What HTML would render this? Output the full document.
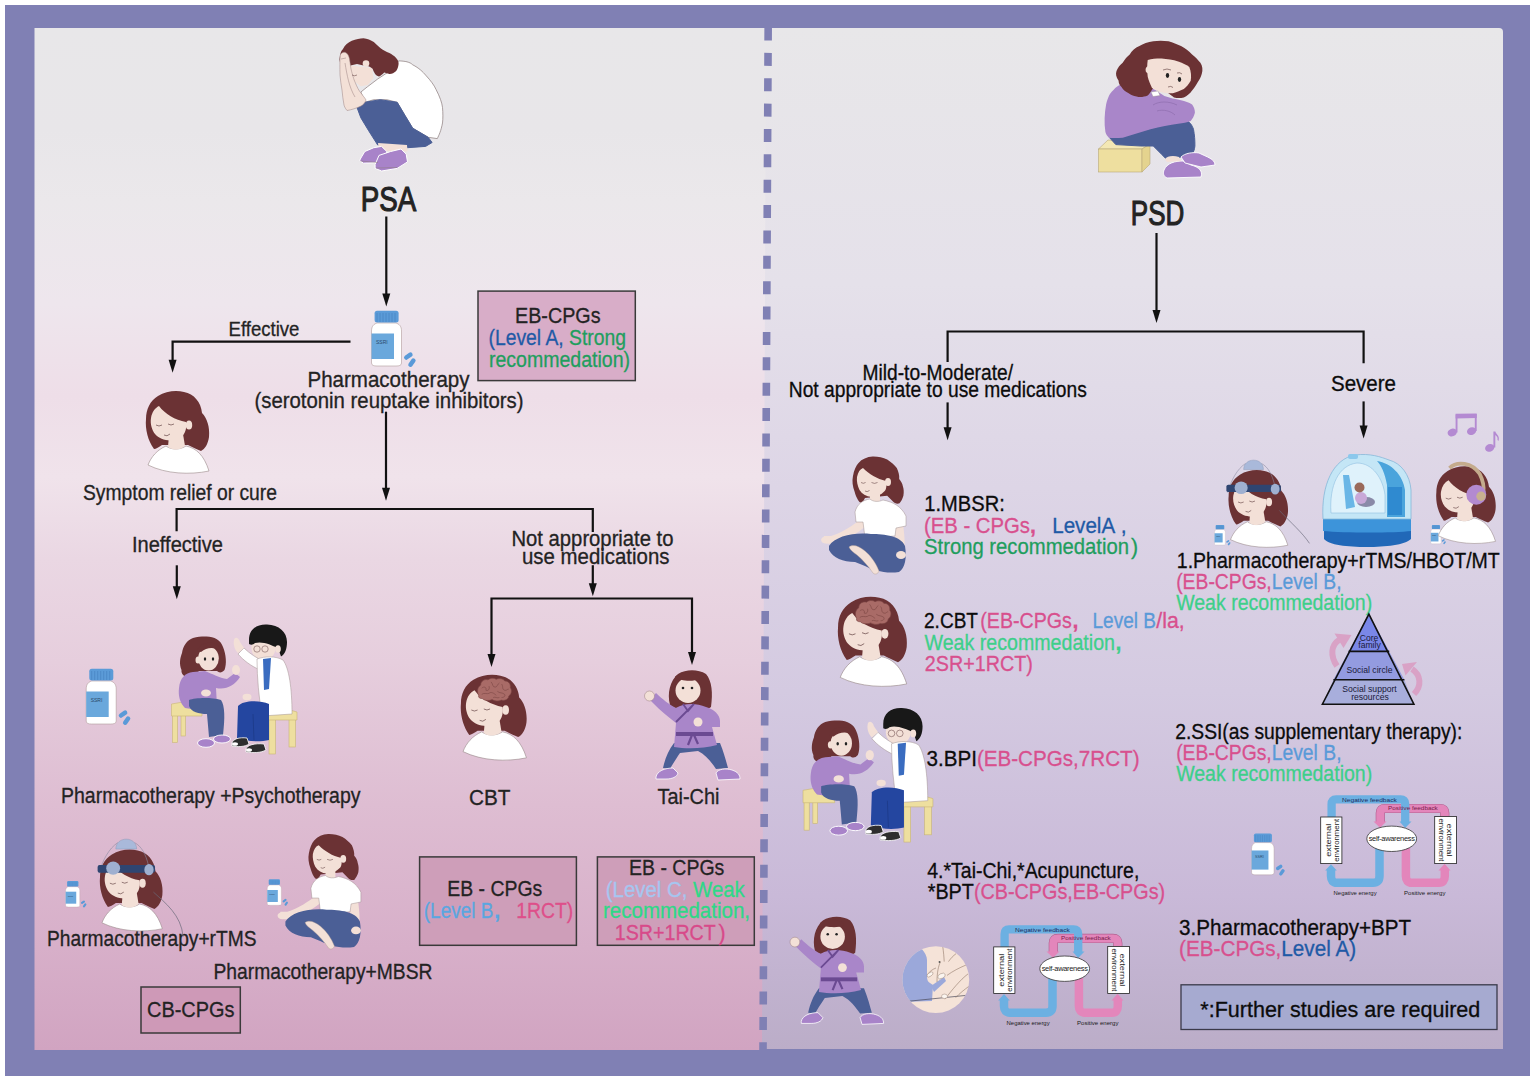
<!DOCTYPE html>
<html><head><meta charset="utf-8"><style>
html,body{margin:0;padding:0;background:#fff;}
svg{display:block;}
</style></head><body>
<svg width="1535" height="1081" viewBox="0 0 1535 1081">
<defs>
<linearGradient id="gl" x1="0" y1="0" x2="0" y2="1">
<stop offset="0" stop-color="#e8e7e9"/>
<stop offset="0.1" stop-color="#e8e6e9"/>
<stop offset="0.17" stop-color="#ebe8eb"/>
<stop offset="0.27" stop-color="#eee6ed"/>
<stop offset="0.36" stop-color="#eedee8"/>
<stop offset="0.44" stop-color="#f0e3eb"/>
<stop offset="0.52" stop-color="#ead7e3"/>
<stop offset="0.62" stop-color="#e6cedd"/>
<stop offset="0.76" stop-color="#debdd2"/>
<stop offset="0.9" stop-color="#d7afc9"/>
<stop offset="1" stop-color="#d1a4c1"/>
</linearGradient>
<linearGradient id="gr" x1="0" y1="0" x2="0" y2="1">
<stop offset="0" stop-color="#e8e7e9"/>
<stop offset="0.25" stop-color="#e5e1ea"/>
<stop offset="0.45" stop-color="#ddd5e6"/>
<stop offset="0.65" stop-color="#d4cae1"/>
<stop offset="0.85" stop-color="#c9b9d8"/>
<stop offset="1" stop-color="#bbadc8"/>
</linearGradient>
</defs>
<rect x="0" y="0" width="1535" height="1081" fill="#ffffff"/>
<rect x="5" y="5" width="1525" height="1071" fill="#8080b4"/>
<path d="M34.5,28 H768 L764,1050 H34.5 Z" fill="url(#gl)"/>
<path d="M766,28 H1499 a4,4 0 0 1 4,4 V1049 H762 Z" fill="url(#gr)"/>
<line x1="768.2" y1="22" x2="763" y2="1052" stroke="#8080b4" stroke-width="7.6" stroke-dasharray="13 12.37" stroke-dashoffset="-5.5"/>
<g font-family='"Liberation Sans", sans-serif'>
<text x="360.8" y="210.5" font-size="34.6" fill="#232323" stroke="#232323" stroke-width="0.3" textLength="55.5" lengthAdjust="spacingAndGlyphs" style="stroke-width:1.1px">PSA</text>
<text x="228.6" y="335.8" font-size="20.5" fill="#232323" stroke="#232323" stroke-width="0.3" textLength="70.8" lengthAdjust="spacingAndGlyphs">Effective</text>
<text x="307.5" y="386.5" font-size="21.3" fill="#232323" stroke="#232323" stroke-width="0.3" textLength="162" lengthAdjust="spacingAndGlyphs">Pharmacotherapy</text>
<text x="254.5" y="407.8" font-size="21.3" fill="#232323" stroke="#232323" stroke-width="0.3" textLength="269" lengthAdjust="spacingAndGlyphs">(serotonin reuptake inhibitors)</text>
<rect x="478" y="291.1" width="157.29999999999995" height="89.5" fill="#d8adc8" stroke="#3a3a3a" stroke-width="1.5"/>
<text x="515" y="323.4" font-size="21.3" fill="#232323" stroke="#232323" stroke-width="0.3" textLength="85.5" lengthAdjust="spacingAndGlyphs">EB-CPGs</text>
<text x="488.5" y="344.5" font-size="21.3" textLength="137.5" lengthAdjust="spacingAndGlyphs"><tspan fill="#1f5aa6" stroke="#1f5aa6" stroke-width="0.3">(Level A, </tspan><tspan fill="#1f9e5e" stroke="#1f9e5e" stroke-width="0.3">Strong</tspan></text>
<text x="489" y="366.7" font-size="21.3" fill="#1f9e5e" stroke="#1f9e5e" stroke-width="0.3" textLength="141" lengthAdjust="spacingAndGlyphs">recommedation)</text>
<text x="83" y="500" font-size="21.3" fill="#232323" stroke="#232323" stroke-width="0.3" textLength="194" lengthAdjust="spacingAndGlyphs">Symptom relief or cure</text>
<text x="132" y="552" font-size="21.3" fill="#232323" stroke="#232323" stroke-width="0.3" textLength="91" lengthAdjust="spacingAndGlyphs">Ineffective</text>
<text x="511.5" y="545.8" font-size="21.3" fill="#232323" stroke="#232323" stroke-width="0.3" textLength="162" lengthAdjust="spacingAndGlyphs">Not appropriate to</text>
<text x="522" y="563.7" font-size="21.3" fill="#232323" stroke="#232323" stroke-width="0.3" textLength="147.5" lengthAdjust="spacingAndGlyphs">use medications</text>
<text x="469" y="805" font-size="21.3" fill="#232323" stroke="#232323" stroke-width="0.3" textLength="41.5" lengthAdjust="spacingAndGlyphs">CBT</text>
<text x="657.5" y="803.5" font-size="21.3" fill="#232323" stroke="#232323" stroke-width="0.3" textLength="62" lengthAdjust="spacingAndGlyphs">Tai-Chi</text>
<text x="61" y="802.5" font-size="21.3" fill="#232323" stroke="#232323" stroke-width="0.3" textLength="299.5" lengthAdjust="spacingAndGlyphs">Pharmacotherapy +Psychotherapy</text>
<text x="47" y="946" font-size="21.3" fill="#232323" stroke="#232323" stroke-width="0.3" textLength="209.5" lengthAdjust="spacingAndGlyphs">Pharmacotherapy+rTMS</text>
<text x="213.5" y="979" font-size="21.3" fill="#232323" stroke="#232323" stroke-width="0.3" textLength="219" lengthAdjust="spacingAndGlyphs">Pharmacotherapy+MBSR</text>
<rect x="141" y="987" width="99.30000000000001" height="46" fill="#ce99b7" stroke="#3a3a3a" stroke-width="1.5"/>
<text x="147" y="1016.8" font-size="21.3" fill="#232323" stroke="#232323" stroke-width="0.3" textLength="87.5" lengthAdjust="spacingAndGlyphs">CB-CPGs</text>
<rect x="419.6" y="856.9" width="156.79999999999995" height="88.39999999999998" fill="#ce9eb9" stroke="#3a3a3a" stroke-width="1.5"/>
<text x="447.3" y="896.3" font-size="21.3" fill="#232323" stroke="#232323" stroke-width="0.3" textLength="95" lengthAdjust="spacingAndGlyphs">EB - CPGs</text>
<text x="423.8" y="918" font-size="21.3" fill="#5aa6e0" stroke="#5aa6e0" stroke-width="0.3" textLength="69.5" lengthAdjust="spacingAndGlyphs">(Level B</text>
<text x="494.2" y="918" font-size="21.3" fill="#5aa6e0" stroke="#5aa6e0" stroke-width="0.3" font-weight="bold">,</text>
<text x="516.3" y="918" font-size="21.3" fill="#de4f8a" stroke="#de4f8a" stroke-width="0.3" textLength="57" lengthAdjust="spacingAndGlyphs">1RCT)</text>
<rect x="597.4" y="856.9" width="156.89999999999998" height="88.39999999999998" fill="#ce9eb9" stroke="#3a3a3a" stroke-width="1.5"/>
<text x="629" y="875" font-size="21.3" fill="#232323" stroke="#232323" stroke-width="0.3" textLength="95.3" lengthAdjust="spacingAndGlyphs">EB - CPGs</text>
<text x="605.8" y="897" font-size="21.3" textLength="139" lengthAdjust="spacingAndGlyphs"><tspan fill="#a6c6f0" stroke="#a6c6f0" stroke-width="0.3">(Level C, </tspan><tspan fill="#2fd887" stroke="#2fd887" stroke-width="0.3">Weak</tspan></text>
<text x="603" y="918.4" font-size="21.3" fill="#2fd887" stroke="#2fd887" stroke-width="0.3" textLength="147" lengthAdjust="spacingAndGlyphs">recommedation,</text>
<text x="614.8" y="939.6" font-size="21.3" fill="#d84a8a" stroke="#d84a8a" stroke-width="0.3" textLength="101" lengthAdjust="spacingAndGlyphs">1SR+1RCT</text>
<text x="718.5" y="939.6" font-size="21.3" fill="#d84a8a" stroke="#d84a8a" stroke-width="0.3">)</text>
<line x1="386.3" y1="216.5" x2="386.3" y2="298.4" stroke="#111" stroke-width="2.2"/>
<polygon points="382.3,293.4 390.3,293.4 386.3,306.4" fill="#111"/>
<polyline points="350.5,341.6 172.6,341.6 172.6,364" fill="none" stroke="#111" stroke-width="2.2" stroke-linejoin="miter"/>
<polygon points="168.6,359.8 176.6,359.8 172.6,372.8" fill="#111"/>
<line x1="386" y1="411.7" x2="386" y2="492.8" stroke="#111" stroke-width="2.2"/>
<polygon points="382.0,487.8 390.0,487.8 386,500.8" fill="#111"/>
<polyline points="592.8,531.9 592.8,509 176.6,509 176.6,531.3" fill="none" stroke="#111" stroke-width="2.2" stroke-linejoin="miter"/>
<line x1="592.8" y1="565.2" x2="592.8" y2="588.3" stroke="#111" stroke-width="2.2"/>
<polygon points="588.8,583.3 596.8,583.3 592.8,596.3" fill="#111"/>
<line x1="176.8" y1="565.3" x2="176.8" y2="591.3" stroke="#111" stroke-width="2.2"/>
<polygon points="172.8,586.3 180.8,586.3 176.8,599.3" fill="#111"/>
<polyline points="491.5,660 491.5,598.5 692,598.5 692,660" fill="none" stroke="#111" stroke-width="2.2" stroke-linejoin="miter"/>
<polygon points="487.5,654 495.5,654 491.5,667" fill="#111"/>
<polygon points="688.0,652 696.0,652 692,665" fill="#111"/>
<text x="1130.8" y="224.6" font-size="34.6" fill="#232323" stroke="#232323" stroke-width="0.3" textLength="53.5" lengthAdjust="spacingAndGlyphs" style="stroke-width:1.1px">PSD</text>
<text x="862.5" y="380.3" font-size="21.3" fill="#0c0c0c" stroke="#0c0c0c" stroke-width="0.3" textLength="150.5" lengthAdjust="spacingAndGlyphs">Mild-to-Moderate/</text>
<text x="788.8" y="397.2" font-size="21.3" fill="#0c0c0c" stroke="#0c0c0c" stroke-width="0.3" textLength="298" lengthAdjust="spacingAndGlyphs">Not appropriate to use medications</text>
<text x="1331" y="390.5" font-size="21.3" fill="#0c0c0c" stroke="#0c0c0c" stroke-width="0.3" textLength="65" lengthAdjust="spacingAndGlyphs">Severe</text>
<text x="924.3" y="510.9" font-size="21.3" fill="#0c0c0c" stroke="#0c0c0c" stroke-width="0.3" textLength="80.5" lengthAdjust="spacingAndGlyphs">1.MBSR:</text>
<text x="924" y="532.9" font-size="21.3" fill="#d8508e" stroke="#d8508e" stroke-width="0.3" textLength="106" lengthAdjust="spacingAndGlyphs">(EB - CPGs</text>
<text x="1030" y="532.9" font-size="21.3" fill="#d8508e" stroke="#d8508e" stroke-width="0.3" font-weight="bold">,</text>
<text x="1052.2" y="532.9" font-size="21.3" fill="#1f5aa6" stroke="#1f5aa6" stroke-width="0.3" textLength="63" lengthAdjust="spacingAndGlyphs">LevelA</text>
<text x="1120.8" y="532.9" font-size="21.3" fill="#1f5aa6" stroke="#1f5aa6" stroke-width="0.3">,</text>
<text x="924" y="553.7" font-size="21.3" fill="#1f9e5e" stroke="#1f9e5e" stroke-width="0.3" textLength="205" lengthAdjust="spacingAndGlyphs">Strong recommedation</text>
<text x="1131" y="553.7" font-size="21.3" fill="#1f9e5e" stroke="#1f9e5e" stroke-width="0.3">)</text>
<text x="1176.8" y="567.8" font-size="21.3" fill="#0c0c0c" stroke="#0c0c0c" stroke-width="0.3" textLength="323" lengthAdjust="spacingAndGlyphs">1.Pharmacotherapy+rTMS/HBOT/MT</text>
<text x="1176.2" y="589" font-size="21.3" textLength="165.3" lengthAdjust="spacingAndGlyphs"><tspan fill="#d8508e" stroke="#d8508e" stroke-width="0.3">(EB-CPGs,</tspan><tspan fill="#5a9ad8" stroke="#5a9ad8" stroke-width="0.3">Level B,</tspan></text>
<text x="1176.2" y="610.2" font-size="21.3" fill="#3ecf8a" stroke="#3ecf8a" stroke-width="0.3" textLength="196" lengthAdjust="spacingAndGlyphs">Weak recommedation)</text>
<text x="924" y="628.1" font-size="21.3" fill="#0c0c0c" stroke="#0c0c0c" stroke-width="0.3" textLength="54" lengthAdjust="spacingAndGlyphs">2.CBT</text>
<text x="980.3" y="628.1" font-size="21.3" fill="#d8508e" stroke="#d8508e" stroke-width="0.3" textLength="91.5" lengthAdjust="spacingAndGlyphs">(EB-CPGs</text>
<text x="1072.6" y="628.1" font-size="21.3" fill="#d8508e" stroke="#d8508e" stroke-width="0.3" font-weight="bold">,</text>
<text x="1092.5" y="628.1" font-size="21.3" fill="#5a9ad8" stroke="#5a9ad8" stroke-width="0.3" textLength="63.5" lengthAdjust="spacingAndGlyphs">Level B</text>
<text x="1156.3" y="628.1" font-size="21.3" fill="#d8508e" stroke="#d8508e" stroke-width="0.3">/la,</text>
<text x="924.5" y="650.1" font-size="21.3" fill="#3ecf8a" stroke="#3ecf8a" stroke-width="0.3" textLength="190.5" lengthAdjust="spacingAndGlyphs">Weak recommedation</text>
<text x="1115.6" y="650.1" font-size="21.3" fill="#3ecf8a" stroke="#3ecf8a" stroke-width="0.3" font-weight="bold">,</text>
<text x="924.8" y="671.2" font-size="21.3" fill="#d8508e" stroke="#d8508e" stroke-width="0.3" textLength="108" lengthAdjust="spacingAndGlyphs">2SR+1RCT)</text>
<text x="926.5" y="766.1" font-size="21.3" textLength="213" lengthAdjust="spacingAndGlyphs"><tspan fill="#0c0c0c" stroke="#0c0c0c" stroke-width="0.3">3.BPI</tspan><tspan fill="#d8508e" stroke="#d8508e" stroke-width="0.3">(EB-CPGs,7RCT)</tspan></text>
<text x="1175.2" y="738.8" font-size="21.3" textLength="287.2" lengthAdjust="spacingAndGlyphs"><tspan fill="#0c0c0c" stroke="#0c0c0c" stroke-width="0.3">2.SSI(as supplementary therapy):</tspan></text>
<text x="1176.2" y="759.7" font-size="21.3" textLength="165.3" lengthAdjust="spacingAndGlyphs"><tspan fill="#d8508e" stroke="#d8508e" stroke-width="0.3">(EB-CPGs,</tspan><tspan fill="#5a9ad8" stroke="#5a9ad8" stroke-width="0.3">Level B,</tspan></text>
<text x="1176.2" y="781" font-size="21.3" fill="#3ecf8a" stroke="#3ecf8a" stroke-width="0.3" textLength="196" lengthAdjust="spacingAndGlyphs">Weak recommedation)</text>
<text x="927.3" y="877.6" font-size="21.3" fill="#0c0c0c" stroke="#0c0c0c" stroke-width="0.3" textLength="212" lengthAdjust="spacingAndGlyphs">4.*Tai-Chi,*Acupuncture,</text>
<text x="927.7" y="898.5" font-size="21.3" textLength="237.5" lengthAdjust="spacingAndGlyphs"><tspan fill="#0c0c0c" stroke="#0c0c0c" stroke-width="0.3">*BPT</tspan><tspan fill="#d8508e" stroke="#d8508e" stroke-width="0.3">(CB-CPGs,EB-CPGs)</tspan></text>
<text x="1179.1" y="935.3" font-size="21.3" fill="#0c0c0c" stroke="#0c0c0c" stroke-width="0.3" textLength="232" lengthAdjust="spacingAndGlyphs">3.Pharmacotherapy+BPT</text>
<text x="1179.1" y="955.9" font-size="21.3" textLength="177" lengthAdjust="spacingAndGlyphs"><tspan fill="#d8508e" stroke="#d8508e" stroke-width="0.3">(EB-CPGs,</tspan><tspan fill="#1f5aa6" stroke="#1f5aa6" stroke-width="0.3">Level A)</tspan></text>
<rect x="1181" y="984.8" width="316" height="44.700000000000045" fill="#a6aad0" stroke="#3a3a4a" stroke-width="1.3"/>
<text x="1200.3" y="1016.7" font-size="21.3" fill="#0c0c0c" stroke="#0c0c0c" stroke-width="0.3" textLength="280" lengthAdjust="spacingAndGlyphs">*:Further studies are required</text>
<line x1="1156.5" y1="233" x2="1156.5" y2="315" stroke="#111" stroke-width="2.2"/>
<polygon points="1152.5,310 1160.5,310 1156.5,323" fill="#111"/>
<polyline points="947.6,362 947.6,331.5 1363.6,331.5 1363.6,363.2" fill="none" stroke="#111" stroke-width="2.2" stroke-linejoin="miter"/>
<line x1="947.6" y1="402.4" x2="947.6" y2="432.2" stroke="#111" stroke-width="2.2"/>
<polygon points="943.6,427.2 951.6,427.2 947.6,440.2" fill="#111"/>
<line x1="1363.6" y1="401.4" x2="1363.6" y2="430.4" stroke="#111" stroke-width="2.2"/>
<polygon points="1359.6,425.4 1367.6,425.4 1363.6,438.4" fill="#111"/>
</g>
<defs>
<g id="head">
 <path d="M14,64 C8,56 5,44 6,34 C6,24 10,16 18,11 C26,6 36,5 44,7 C54,9 61,17 62,28 C67,33 70,42 69,52 C68,59 65,64 61,66 C56,64 52,62 48,60 L22,60 C19,62 16,64 14,64 Z" fill="#6b3234"/>
 <path d="M8,80 C11,72 17,65 26,61 C30,64 38,66 46,61 C56,63 64,70 69,86 C50,90 26,89 8,80 Z" fill="#ffffff" stroke="#9a8a8a" stroke-width="0.6"/>
 <path d="M29,50 L43,49 L45,61 C39,66 32,65 28,62 Z" fill="#f3e0d7"/>
 <path d="M11,33 C12,27 15,23 19,21 C25,29 35,35 46,37 C47,44 45,51 38,54 C30,57 20,55 15,49 C12,45 10,39 11,33 Z" fill="#f3e0d7"/>
 <ellipse cx="49" cy="40" rx="3.2" ry="4.5" fill="#f3e0d7"/>
 <path d="M16,40 q3,2 6,0 M28,39 q3,2 6,0 M24,50 q3,2 6,-1" stroke="#6a4a4a" stroke-width="0.7" fill="none"/>
</g>
<g id="brain">
 <path d="M23,26 C21,22 22,18 25,16 C25,12 29,10 32,11 C34,9 38,9 40,10.5 C43,9 47,10 48,12 C52,12 54,15 53.5,18.5 C55.5,21 54.5,25 52,26.5 C52,29.5 48,31.5 45,30.5 C42,32 38,31.5 36,30 C33,31.5 28,31 26.5,29 C24,29 22.5,28 23,26 Z" fill="#a96b67" stroke="#7a4442" stroke-width="0.6"/>
 <path d="M26,19 C28,17 31,18 30,21 C32,22 34,20 33,17 M35,13 C37,15 36,18 39,18 C41,18 41,15 43,14 M45,15 C47,17 45,20 48,21 C50,22 51,19 52,20 M26,25 C28,23 31,25 33,24 C35,22 38,24 40,26 M41,22 C43,24 46,23 48,25 C49,27 47,28 45,28 M37,28 C39,27 41,29 43,28" stroke="#7a4442" stroke-width="0.55" fill="none"/>
</g>
<g id="bottle">
 <path d="M6.5,26 C6.5,21 9,19 12,18 L31,18 C34,19 36.5,21 36.5,26 L36.5,58 C36.5,60.5 34,61 31,61 L12,61 C9,61 6.5,60.5 6.5,58 Z" fill="#ffffff" stroke="#b09a9a" stroke-width="0.6"/>
 <rect x="6.5" y="28.5" width="22.5" height="25.5" fill="#6aa8dc"/>
 <rect x="9.6" y="5.8" width="24" height="11.8" rx="2.5" fill="#5b9bd8"/>
 <path d="M12,8 v9 M15,8 v9 M18,8 v9 M21,8 v9 M24,8 v9 M27,8 v9 M30,8 v9" stroke="#4a86c4" stroke-width="0.8"/>
 <text x="11" y="39" font-size="5" fill="#2a4a6a" font-family="Liberation Sans, sans-serif">SSRI</text>
</g>
<g id="pills">
 <rect x="38.5" y="49" width="9.5" height="4.5" rx="2.2" fill="#5a9ad8" transform="rotate(-35 43 51)"/>
 <rect x="42.5" y="55.5" width="9.5" height="4.5" rx="2.2" fill="#5a9ad8" transform="rotate(-55 47 58)"/>
</g>
<g id="scene">
 <!-- stools -->
 <g fill="#eedf9f" stroke="#c9b677" stroke-width="0.6">
  <rect x="7.5" y="96" width="5" height="28.5"/><rect x="16" y="96" width="4.5" height="22"/>
  <path d="M6.5,86 L24,83 L37,90 L37,98 L6.5,98 Z"/>
  <rect x="104" y="100" width="6.5" height="36"/><rect x="124" y="100" width="6.5" height="29"/>
  <path d="M100,93 L118,90 L132,94 L132,102 L100,102 Z"/>
 </g>
 <!-- girl -->
 <path d="M40,18.6 C48,18 56,22 58,29 C61,36 62,46 59.5,52 C57,55 54,55 52,53 L34,53 C32,56 29,59 24,59.5 C19,59 16,56 16.5,52 C14,46 15,40 17,35 C18,28 22,22 28,20 C32,19 36,18.6 40,18.6 Z" fill="#6b3234"/>
 <ellipse cx="43.5" cy="40.5" rx="10.3" ry="12" fill="#f3e0d7"/>
 <path d="M32,33 C35,26 42,23 51,26 C55,28 56,31 55,33 C50,29 42,29 36,34 Z" fill="#6b3234"/>
 <ellipse cx="33" cy="42" rx="2.5" ry="3.5" fill="#f3e0d7"/>
 <ellipse cx="40" cy="41" rx="1.2" ry="1.7" fill="#222"/><ellipse cx="48" cy="41" rx="1.2" ry="1.7" fill="#222"/>
 <path d="M14,70 C15,60 20,55 28,54 L40,53 C48,56 54,60 62,61 L70,55 L75,59 C69,68 61,72 51,70 L52,88 C44,92 30,92 20,90 C15,85 13,78 14,70 Z" fill="#a986c9"/>
 <ellipse cx="71" cy="52" rx="4" ry="5" fill="#f3e0d7"/>
 <ellipse cx="41" cy="75" rx="5" ry="3.5" fill="#f3e0d7"/>
 <path d="M24,82 C30,80 45,79 56,82 C60,88 60,100 58,117 L44,119 L42,96 C34,96 26,94 24,88 Z" fill="#4b5f96"/>
 <ellipse cx="41" cy="125" rx="8.5" ry="4.3" fill="#a883c9" stroke="#fff" stroke-width="0.9"/>
 <ellipse cx="57" cy="121" rx="8.5" ry="4" fill="#a883c9" stroke="#fff" stroke-width="0.9"/>
 <!-- doctor -->
 <ellipse cx="98.5" cy="30" rx="12" ry="12" fill="#f3e0d7"/>
 <path d="M84,22 C84,11 92,6 102,6.5 C114,7 122,14 122,24 C122,31 120,36 116,38.5 L113,30 C106,27 98,23 90,25 C88,27 86,27 84,26 Z" fill="#181818"/>
 <ellipse cx="113" cy="31" rx="2.8" ry="3.8" fill="#f3e0d7"/>
 <circle cx="92" cy="31" r="3.2" fill="none" stroke="#7a5a5a" stroke-width="0.6"/>
 <circle cx="100" cy="31" r="3.2" fill="none" stroke="#7a5a5a" stroke-width="0.6"/>
 <path d="M73,36 L79,30 C85,36 92,40 98,43 L95,52 C86,48 78,42 73,36 Z" fill="#ffffff" stroke="#a09090" stroke-width="0.5"/>
 <path d="M69,22 C70,18 74,20 75,24 L79,30 L73,35 C70,32 68,27 69,22 Z" fill="#f3e0d7"/>
 <path d="M92,41 C100,38 111,38 118,42 C124,50 127,70 127,96 L97,98 C94,80 92,60 92,41 Z" fill="#ffffff" stroke="#a09090" stroke-width="0.5"/>
 <path d="M98,41 L106,40 L104,71 L99,72 Z" fill="#3a6cc0"/>
 <path d="M73,88 C78,82 95,82 104,86 L104,122 C96,124 82,124 72,120 Z" fill="#2446a0"/>
 <path d="M88,96 L89,122" stroke="#1a3580" stroke-width="0.6"/>
 <ellipse cx="82" cy="79" rx="4.5" ry="3.2" fill="#f3e0d7"/>
 <path d="M67,125 C68,121 74,119 82,120 L84,126 C80,129 72,129 67,128 Z" fill="#2e2e2e" stroke="#fff" stroke-width="0.8"/>
 <path d="M81,131 C82,127 90,125 99,126 L101,132 C96,135 88,135 81,134 Z" fill="#2e2e2e" stroke="#fff" stroke-width="0.8"/>
 <ellipse cx="70" cy="126" rx="3" ry="1.8" fill="#fff"/><ellipse cx="84" cy="132" rx="3" ry="1.8" fill="#fff"/>
</g>
<g id="mbsr">
 <path d="M39.7,42 C37.5,36 37,31 37.9,26.5 C39,20 41,16 43.3,13.2 C47,9 52,7 57.7,6.6 C63,6.5 68,7.5 72.2,9.6 C76,12 79.5,15 81.8,18 C83.5,22 84.5,25 84.2,28.9 C86,31 87.5,33.5 87.8,36.1 C88.8,39 89,42 88.4,45.7 C87.5,49 86,51.5 84.2,53.5 C81,54 79.5,53 78.2,51.7 L72.2,45.7 L50,48 C49,50 48,51.5 47,52.5 C45.5,52.9 44,52 43,50 C41.5,47.5 40.5,45 39.7,42 Z" fill="#6b3234"/>
 <path d="M42,27 C43,22 45,19 48,18 C54,24 62,29 71,31 C72,36 71,40 69.7,41 C66,45 61,47 56.5,47 C51,46.5 47,44 44.5,40 C42.5,36 41.5,31 42,27 Z" fill="#f3e0d7"/>
 <path d="M46,32.5 q2.3,1.6 4.6,0 M56.5,32.5 q3,1.8 6,0 M50,41 q2,1.5 4.5,-0.5" stroke="#6a4a4a" stroke-width="0.6" fill="none"/>
 <ellipse cx="73" cy="32" rx="3" ry="4" fill="#f3e0d7"/>
 <rect x="55" y="44" width="10" height="8" fill="#f3e0d7"/>
 <path d="M48,70 L42,72 C34,78 24,84 16,86 L9,86 L7,92 C14,95 22,94 30,90 C38,86 46,80 51,76 Z" fill="#f3e0d7"/>
 <path d="M80,74 L88,74 C90,88 90,98 89,106 L82,108 C80,100 80,90 80,74 Z" fill="#f3e0d7"/>
 <path d="M40,62 C42,54 48,50 55,49 C58,52 64,52 68,50 C78,52 86,56 91,66 L91,76 L81,78 L80,86 L50,88 L48,72 L41,72 Z" fill="#ffffff" stroke="#a09090" stroke-width="0.5"/>
 <path d="M14,96 C20,86 40,82 56,84 C70,84 86,86 90,96 C92,108 90,118 84,122 C70,124 58,120 50,116 L40,112 C28,112 18,108 14,100 Z" fill="#4b5f96"/>
 <path d="M34,97 C38,94 44,96 50,101 C56,106 61,113 64,121 C63,124 60,125 58,123 C54,117 48,110 42,105 C38,102 35,100 34,97 Z" fill="#f3e0d7" stroke="#b09a90" stroke-width="0.4"/>
 <ellipse cx="86" cy="105" rx="5" ry="4" fill="#f3e0d7"/>
 <ellipse cx="11" cy="90" rx="5" ry="3.5" fill="#f3e0d7"/>
</g>
<g id="taichi">
 <path d="M30,40 C27,28 30,16 38,9 C46,4 58,4 66,9 C72,16 73,28 71,42 C68,45 62,44 58,42 L40,42 C36,44 32,43 30,40 Z" fill="#6b3234"/>
 <ellipse cx="48" cy="25.5" rx="12.5" ry="12.5" fill="#f3e0d7"/>
 <path d="M35,12 C40,16 52,17 60,14 C58,10 52,8 46,8 C40,9 36,10 35,12 Z" fill="#6b3234"/>
 <circle cx="43" cy="23" r="1.3" fill="#222"/><circle cx="52" cy="23" r="1.3" fill="#222"/>
 <path d="M34,78 L80,78 C84,88 86,96 88,103 L76,104 C72,98 66,90 58,86 L40,88 C36,94 32,100 30,104 L23,103 C25,94 28,86 34,78 Z" fill="#4b5f96"/>
 <path d="M36,43 C44,38 56,38 66,42 C74,44 80,50 80,56 L80,62 L72,62 L77,80 C62,84 46,84 34,82 L36,58 C28,52 20,45 14,39 L10,35 L16,28 C22,34 30,40 36,43 Z" fill="#a986c9"/>
 <path d="M43,39 L48,46 L54,39 M54,39 L36,57" stroke="#6b4a92" stroke-width="1.8" fill="none"/>
 <rect x="36" y="67" width="37" height="4" fill="#6b4a92"/>
 <path d="M52,70 L48,80 M54,70 L58,79" stroke="#6b4a92" stroke-width="2.2"/>
 <circle cx="9.5" cy="31" r="5" fill="#f3e0d7" stroke="#9a8080" stroke-width="0.5"/>
 <circle cx="58" cy="57" r="4.5" fill="#f3e0d7"/>
 <path d="M16,112 C17,106 25,103 33,103 L38,108 C37,112 32,114 26,114 L16,114 Z" fill="#a883c9" stroke="#fff" stroke-width="0.8"/>
 <path d="M76,108 C78,104 86,103 92,105 C98,107 100,110 100,114 L78,115 Z" fill="#a883c9" stroke="#fff" stroke-width="0.8"/>
</g>
<g id="fb">
 <g fill="none" stroke-linejoin="round">
  <path d="M129.8,30 L129.8,25 Q129.8,20.5 125,20.5 L70,20.5 Q65.3,20.5 65.3,25 L65.3,34" stroke="#b0608f" stroke-width="9.2"/>
  <path d="M129.8,30 L129.8,25 Q129.8,20.5 125,20.5 L70,20.5 Q65.3,20.5 65.3,25 L65.3,34" stroke="#e386bb" stroke-width="8"/>
  <path d="M16.6,30 L16.6,16 Q16.6,11.4 21,11.4 L85.5,11.4 Q90.2,11.4 90.2,16 L90.2,34" stroke="#6cb0e2" stroke-width="8.3"/>
  <path d="M64.5,60 L64.5,88 Q64.5,94.8 58,94.8 L22,94.8 Q16,94.8 16,88 L16,82" stroke="#6cb0e2" stroke-width="8.5"/>
  <path d="M90.9,60 L90.9,88 Q90.9,94.8 97,94.8 L124,94.8 Q129.8,94.8 129.8,88 L129.8,82" stroke="#e386bb" stroke-width="8.5"/>
 </g>
 <polygon points="58.5,33.5 71.5,33.5 65,39.8" fill="#e386bb"/>
 <polygon points="84.5,33.5 96.5,33.5 90.2,40" fill="#6cb0e2"/>
 <polygon points="10.2,82.5 21.8,82.5 16,76.2" fill="#6cb0e2"/>
 <polygon points="123.5,82.5 135.5,82.5 129.6,75.8" fill="#e386bb"/>
 <rect x="5.7" y="29" width="21.2" height="46.6" fill="#fff" stroke="#222" stroke-width="0.8"/>
 <rect x="119.7" y="28.5" width="21.7" height="47.1" fill="#fff" stroke="#222" stroke-width="0.8"/>
 <ellipse cx="76.7" cy="50.8" rx="24.9" ry="12.7" fill="#fff" stroke="#333" stroke-width="0.8"/>
 <g font-family="Liberation Sans, sans-serif" fill="#1a1a1a">
  <text x="76.7" y="53.4" font-size="7.6" text-anchor="middle" textLength="46" lengthAdjust="spacingAndGlyphs" letter-spacing="-0.3">self-awareness</text>
  <text transform="translate(15.6,52.3) rotate(-90)" font-size="7.8" text-anchor="middle" textLength="33" lengthAdjust="spacingAndGlyphs">external</text>
  <text transform="translate(23.6,52.3) rotate(-90)" font-size="7.8" text-anchor="middle" textLength="43" lengthAdjust="spacingAndGlyphs">environment</text>
  <text transform="translate(131.8,52) rotate(90)" font-size="7.8" text-anchor="middle" textLength="33" lengthAdjust="spacingAndGlyphs">external</text>
  <text transform="translate(123.8,52) rotate(90)" font-size="7.8" text-anchor="middle" textLength="43" lengthAdjust="spacingAndGlyphs">environment</text>
  <text x="27" y="13.8" font-size="5.8" fill="#1c2c5c" textLength="54.8" lengthAdjust="spacingAndGlyphs">Negative feedback</text>
  <text x="73" y="22.2" font-size="5.8" fill="#7a1a4a" textLength="49.8" lengthAdjust="spacingAndGlyphs">Positive feedback</text>
  <text x="18.6" y="106.8" font-size="5.8" textLength="43" lengthAdjust="spacingAndGlyphs">Negative energy</text>
  <text x="89" y="106.8" font-size="5.8" textLength="41.5" lengthAdjust="spacingAndGlyphs">Positive energy</text>
 </g>
</g>
<g id="rtms">
 <path d="M24,-1 C15,5 9,16 5,30 M41,-1 C48,3 52,10 55,22" stroke="#8a8aa0" stroke-width="0.6" fill="none"/>
 <path d="M22,5.5 C22,-1 27,-4.5 32.5,-4.5 C38,-4.5 43,-1 43,5.5 Z" fill="#a9b9da" stroke="#8898b8" stroke-width="0.5"/>
 <rect x="3.6" y="21.6" width="58" height="7.8" rx="2" fill="#2f4571"/>
 <ellipse cx="19.3" cy="24.8" rx="7" ry="6.7" fill="#9fb0d0"/>
 <ellipse cx="55.5" cy="26.3" rx="4.7" ry="5.7" fill="#9fb0d0"/>
</g>
</defs>

<!-- LEFT PANEL -->
<!-- A crouching girl -->
<g transform="translate(335,35)">
 <path d="M25.9,57 L32.4,51.8 L42.7,44 L54.4,36.3 L63.5,25.9 C70,26 75,27 77.7,29.8 C84,33 88,37 90.6,40.1 C96,46 99,50 101,54.4 C105,62 107,68 107.5,72.5 C108,78 108,84 107.5,88 C106,96 104,100 102.3,103.6 L93.2,102.3 L77.7,93.2 L69.9,80.3 L62.2,67.3 L51.8,64.7 L38.8,64.7 L29.8,67.3 Z" fill="#ffffff" stroke="#8a7a7a" stroke-width="0.7"/>
 <path d="M22,72.5 L29.8,67.3 L45.3,64.7 L62.2,67.3 L69.9,80.3 L77.7,93.2 L93.2,102.3 L97.1,107.5 L90.6,111.4 L72.5,112.7 L62.2,111.4 L54.4,110 L42.7,110 L33.7,95.8 L25.9,82.9 Z" fill="#4b5f96" stroke="#4b5f96" stroke-width="1" stroke-linejoin="round"/>
 <path d="M43,108 L72,110 L72.5,116.5 L44,116 Z" fill="#f3e0d7"/>
 <path d="M13,31 L36.3,33.7 L37.6,42.7 L32.4,49.2 L25.9,50.5 L19.4,45.3 L14.2,38.9 Z" fill="#f3e0d7" stroke="#f3e0d7" stroke-width="1.5" stroke-linejoin="round"/>
 <path d="M4.5,24.6 C5,19 6,16 7.8,14.2 C10,10 13,7.5 16.8,5.8 C21,4 25,3.2 28.5,3.2 C32,3.5 36,5 38.8,7.1 C41,9 43,11 45.3,13 C48,15 51,16.5 54.4,18.1 C57,19.5 59,21 60.9,22.7 C63,25 64,27 63.5,29.8 C63,33 62,35 60.9,36.3 C59,38 57,39 54.4,38.9 C52,38.5 50.5,38 49.2,37.6 C47,39.5 45.5,41.4 44,41.4 C42,41 41,40 40.1,38.9 C39,37 38,35 37.6,33.7 C35,32 34,31.5 32.4,31.1 L28.5,30.4 L22,29.1 L15.5,30.4 L10.4,29.8 L5.2,28.5 Z" fill="#6b3234"/>
 <circle cx="31" cy="28.5" r="3.3" fill="#f3e0d7"/>
 <path d="M5.2,20 C7,17 9.5,16.5 12,18.5 C13.5,20 14,22 14.5,24 L16,34 C17.5,40 19,45 20,47 C22,52 24,56 26,58 C28,61 30,63 31,65 C30,68 28,70 26,71 C22,73 16,75 12,75.5 C10,73 9.2,71 9,70 C8,65 7.5,60 7,55 C6,50 5.5,45 5,40 C4.8,33 4.8,26 5.2,20 Z" fill="#f3e0d7" stroke="#9a8080" stroke-width="0.5"/>
 <path d="M10,28 C12,40 14,52 20,62 M6,24 L11,23" stroke="#9a8080" stroke-width="0.5" fill="none"/>
 <path d="M17,40 q2.5,1.5 5,0" stroke="#6a4a4a" stroke-width="0.6" fill="none"/>
 <path d="M25.9,123 L29.8,116.5 L38.8,112.7 L46.6,111.4 L51.8,116.5 L50.5,123 L42.7,127.6 L28.5,128.2 L24.6,125.6 Z" fill="#a883c9" stroke="#fff" stroke-width="1" stroke-linejoin="round"/>
 <path d="M40.1,129.5 L44,120.4 L55.7,116.5 L66,114 L71.2,119.1 L72.5,126.9 L62.2,133.4 L46.6,136 L40.1,133.4 Z" fill="#a883c9" stroke="#fff" stroke-width="1" stroke-linejoin="round"/>
 <path d="M25.5,126 L43,127.5 M41,133 L62,132.5" stroke="#8a7a7a" stroke-width="0.5"/>
</g>
<!-- B bottle -->
<g transform="translate(365,305)"><use href="#bottle"/><use href="#pills"/></g>
<!-- C head -->
<g transform="translate(140,385)"><use href="#head"/></g>
<!-- D bottle -->
<g transform="translate(79.7,663)"><use href="#bottle"/><use href="#pills"/></g>
<!-- E scene -->
<g transform="translate(165,618)"><use href="#scene"/></g>
<!-- F CBT head -->
<g transform="translate(454.7,668.4) scale(1.04)"><use href="#head"/><use href="#brain"/></g>
<!-- G tai chi -->
<g transform="translate(640,665)"><use href="#taichi"/></g>
<!-- H rTMS -->
<g transform="translate(62.6,878.3) scale(0.47)"><use href="#bottle"/><use href="#pills"/></g>
<g transform="translate(94.05,843.6) scale(0.99)"><use href="#head"/><use href="#rtms"/><path d="M60,49 C72,60 88,72 90,94" stroke="#6a6a7a" stroke-width="0.7" fill="none"/></g>
<!-- I MBSR -->
<g transform="translate(264.2,876.6) scale(0.47)"><use href="#bottle"/><use href="#pills"/></g>
<g transform="translate(271.7,827.5) scale(0.98)"><use href="#mbsr"/></g>

<!-- RIGHT PANEL -->
<!-- J PSD girl -->
<g transform="translate(1095,35)">
 <path d="M3.5,114 L13,105 L55,109 L47,114 Z" fill="#f3e7b4" stroke="#b8a878" stroke-width="0.6"/>
 <rect x="3.5" y="114" width="43.5" height="23" fill="#eedf9f" stroke="#b8a878" stroke-width="0.6"/>
 <path d="M47,114 L55,109 L55,129 L47,137 Z" fill="#e4d38e" stroke="#b8a878" stroke-width="0.6"/>
 <path d="M14.6,102.7 L41.6,97.1 L69.4,90.2 L90.2,84.6 C95,87 97,90 98.5,94.3 C99.5,100 100,105 99.9,111 C99.5,115 98.5,117 97.1,119.3 L86,122 L72.1,124.9 L66.6,119.3 L58.3,111 L45.8,111 L20.8,109.6 Z" fill="#4b5f96" stroke="#4b5f96" stroke-width="1" stroke-linejoin="round"/>
 <path d="M10.4,97.1 C9,88 9.5,78 11.1,69.4 C13,62 15,58 18,55.5 C21,52 24,50 27.7,48.6 C32,47.5 37,47 41.6,47.2 C47,49 53,51 58.3,54.1 C62,56 66,59 69.4,61 C75,63 80,64 86,65.2 C90,66 94,67.5 97.1,69.4 C99,72 100,75 99.9,77.7 C99,81 97.5,84 95.7,86 C92,87.5 88,88.2 83.2,88.8 C75,90 65,92 55.5,94.3 C46,97 37,100 27.7,102.7 C22,103 17,103 13.9,102.7 C12,101 11,99 10.4,97.1 Z" fill="#a986c9"/>
 <path d="M58,70 C64,66 74,66 82,70 M62,76 C68,74 76,76 80,80" stroke="#8a6aaa" stroke-width="0.6" fill="none"/>
 <path d="M23.6,45.8 C21,42 20.5,39 21.5,36 C23,32 25,30 27.7,27.7 C30,24 32,21.5 34.7,19.4 C37,15.5 40,13 44.4,11.1 C48,8.5 53,7 58.3,6.2 C63,5.5 68,5.5 73.5,6.2 C78,7.5 82,9 86,11.1 C90,13.5 94,16 97.1,19.4 C100.5,22 103,25 105.4,27.7 C107.5,31 108,35 106.8,38.8 C106,42 104.5,45 102.7,47.2 C101,50.5 99,53 97.1,55.5 C95,58.5 92,61 88.8,62.4 C85,63.5 82,63.2 79,62.4 C77,61 75,59.5 73.5,58.3 L58.3,52.7 C56,56 54.5,59 52.7,60.5 C49,62 45,62.5 41.6,61.5 C38.5,61 35.5,60 33.3,58 C31,57 28,55 26.5,52 C24.5,50 23.5,48 23.6,45.8 Z" fill="#6b3234"/>
 <path d="M52.7,25 C57,24 62,23.5 66.6,23.6 C72,24 78,25 83.2,26.4 C88,28 92,30 94.3,31.9 C96,36 96.5,41 95.7,45.8 C94,49 91.5,52 88.8,54.1 C85,56 81,57.5 77.7,58.3 C73,58.5 69,58 65.2,56.9 C62,55.5 59,54 56.9,52.7 C55,49 53.5,45 52.7,41.6 C52,36 52,30 52.7,25 Z" fill="#f3e0d7"/>
 <circle cx="54.4" cy="34.7" r="3.8" fill="#f3e0d7"/>
 <ellipse cx="72.5" cy="40.5" rx="1.7" ry="2.4" fill="#222"/><ellipse cx="84.5" cy="44.5" rx="1.7" ry="2.4" fill="#222"/>
 <path d="M68,35 q4,-2 8,0 M82,38 q3,-1 5,1 M73,52 q3,-1.5 5,0.5" stroke="#5a3a3a" stroke-width="0.6" fill="none"/>
 <path d="M56,57 L63,56 L65,60.5 L58,61.5 Z" fill="#fff" stroke="#9a8a8a" stroke-width="0.4"/>
 <path d="M69,135 C72,128 80,126 88,126 L96,130 C104,132 108,136 106,142 L72,143 C68,141 68,138 69,135 Z" fill="#a883c9" stroke="#fff" stroke-width="0.9"/>
 <path d="M86,122 C90,118 98,117 104,118 C112,122 120,124 120,130 L106,132 L90,128 Z" fill="#a883c9" stroke="#fff" stroke-width="0.9"/>
 <path d="M70,124 C72,121 78,120 84,122 L86,126 L72,127 Z" fill="#f3e0d7"/>
</g>
<!-- K MBSR -->
<g transform="translate(815,450)"><use href="#mbsr"/></g>
<!-- L CBT head -->
<g transform="translate(831.5,590.2) scale(1.09)"><use href="#head"/><use href="#brain"/></g>
<!-- M scene -->
<g transform="translate(796.3,701.3) scale(1.035)"><use href="#scene"/></g>
<!-- N rTMS -->
<g transform="translate(1212.2,523) scale(0.36)"><use href="#bottle"/><use href="#pills"/></g>
<g transform="translate(1223,464.4) scale(0.94)"><use href="#head"/><use href="#rtms"/><path d="M60,49 C72,62 84,72 92,84" stroke="#6a6a7a" stroke-width="0.7" fill="none"/></g>
<!-- O HBOT -->
<g transform="translate(1315,445)">
 <path d="M9,84 L96,84 L96,94 C90,100 70,102 52,102 C32,102 14,100 9,94 Z" fill="#2168b8"/>
 <path d="M8,74 L96,74 L96,86 C80,88 30,88 8,86 Z" fill="#3d94da"/>
 <path d="M8,74 C6,40 18,14 40,10 C55,8 66,12 74,15 C86,18 95,30 96,45 L96,74 Z" fill="#c4e6f6" stroke="#86b8d8" stroke-width="0.8"/>
 <path d="M62,16 C76,18 88,30 90,45 L90,72 L72,72 L72,40 C70,28 66,20 62,16 Z" fill="#4aa4dc"/>
 <rect x="73" y="42" width="14" height="28" fill="#2f8ad0"/>
 <path d="M16,68 C14,40 24,20 42,18 C58,18 68,34 70,50 L70,68 Z" fill="#dff2fb" stroke="#90c0e0" stroke-width="0.6"/>
 <path d="M28,30 L34,30 L40,62 L31,64 Z" fill="#6ab6e6"/>
 <ellipse cx="51" cy="57" rx="9" ry="5" fill="#8a8aa8"/>
 <ellipse cx="46" cy="53" rx="6" ry="6" fill="#c8a8d8"/>
 <circle cx="44.5" cy="42.5" r="5" fill="#9a6a5a"/>
 <rect x="33" y="9" width="10" height="5" rx="2" fill="#8cc8ec"/>
</g>
<!-- P music -->
<g transform="translate(1428.6,523.1) scale(0.34)"><use href="#bottle"/><use href="#pills"/></g>
<g transform="translate(1430.7,460.55) scale(0.94)"><use href="#head"/>
 <path d="M20,8 C28,0 44,2 52,14 C55,20 57,28 56,34" stroke="#c4ab8c" stroke-width="4" fill="none"/>
 <circle cx="48.5" cy="36.4" r="10.6" fill="#b38ad0"/>
 <circle cx="53.5" cy="38" r="5" fill="#c8b090"/>
</g>
<g fill="#b48ad2">
 <ellipse cx="1452.2" cy="432.5" rx="4.7" ry="3.8" transform="rotate(-20 1452.2 432.5)"/>
 <ellipse cx="1471.6" cy="431.1" rx="4.7" ry="3.8" transform="rotate(-20 1471.6 431.1)"/>
 <rect x="1455.6" y="414.5" width="1.9" height="18"/>
 <rect x="1474.8" y="414" width="1.9" height="17"/>
 <polygon points="1455.6,413.7 1476.7,413.4 1476.7,418 1455.6,418.4"/>
 <ellipse cx="1489.7" cy="447.9" rx="4.7" ry="3.8" transform="rotate(-20 1489.7 447.9)"/>
 <rect x="1493.4" y="431.5" width="1.9" height="16"/>
 <path d="M1495,431.5 C1497,435 1500,436 1498.5,441 L1497.5,440 C1498,437 1496.5,436 1495,435 Z"/>
</g>
<!-- Q pyramid -->
<g>
 <path d="M1337,666 C1330,656 1331,645 1339,640" stroke="#d9a2c6" stroke-width="6" fill="none"/>
 <polygon points="1334.5,633.5 1351.5,635 1343.5,648" fill="#d9a2c6"/>
 <path d="M1414,694 C1422,686 1421,675 1412,669" stroke="#d9a2c6" stroke-width="6" fill="none"/>
 <polygon points="1402,664 1417,662 1405.5,675.5" fill="#d9a2c6"/>
 <polygon points="1368.9,614.1 1389.2,651.4 1348.6,651.4" fill="#7a87e8"/>
 <polygon points="1348.6,651.4 1389.2,651.4 1404.4,679.7 1333.4,679.7" fill="#939be0"/>
 <polygon points="1333.4,679.7 1404.4,679.7 1413.9,704.2 1322.4,704.2" fill="#a8aedc"/>
 <polygon points="1368.9,614.1 1413.9,704.2 1322.4,704.2" fill="none" stroke="#111" stroke-width="1.6" stroke-linejoin="miter"/>
 <line x1="1348.6" y1="651.4" x2="1389.2" y2="651.4" stroke="#111" stroke-width="1.6"/>
 <line x1="1333.4" y1="679.7" x2="1404.4" y2="679.7" stroke="#111" stroke-width="1.6"/>
 <g font-family="Liberation Sans, sans-serif" font-size="8.6" fill="#1a1a3a" text-anchor="middle">
  <text x="1369" y="641">Core</text>
  <text x="1369.5" y="648.3">family</text>
  <text x="1369.5" y="673">Social circle</text>
  <text x="1369.5" y="692">Social support</text>
  <text x="1370" y="699.5">resources</text>
 </g>
</g>
<!-- R bottle -->
<g transform="translate(1246.7,829.1) scale(0.75)"><use href="#bottle"/><use href="#pills"/></g>
<!-- S feedback -->
<g transform="translate(1315,788)"><use href="#fb"/></g>
<!-- T tai chi -->
<g transform="translate(785.6,911.7) scale(0.98)"><use href="#taichi"/></g>
<!-- U acupuncture -->
<g>
 <clipPath id="acuclip"><circle cx="935.8" cy="979.7" r="33.4"/></clipPath>
 <circle cx="935.8" cy="979.7" r="33.4" fill="#f5e3d8"/>
 <g clip-path="url(#acuclip)">
  <path d="M898,946 L921.8,949 C925,953 927,956 927,960 L927,976 C927,980 928,982 930,983 L933,985 L932,1001 L898,1002 Z" fill="#9ba8da"/>
  <path d="M931,986 L944,977 L946,981 L934,992 Z" fill="#9ba8da"/>
  <path d="M909,1001.2 L966,995.4" stroke="#4a4a5a" stroke-width="0.7"/>
  <path d="M942.7,946 C943.5,952 944,957 944.2,961.6 M937,982 C937,972 938.5,966 940.5,961.6 M947,975.4 C953,971 959,968 966,965 M944.9,999.2 C952,990 960,980 968,973.9 M955.7,997.7 C960,993 964,990 969,986.2 M948.5,961.6 C951,958 953,956 956,953.7 M927,975 C930,971 933,969 936,968" stroke="#8a7060" stroke-width="0.55" fill="none"/>
  <ellipse cx="930" cy="974.5" rx="3.5" ry="1.8" fill="#fbf5f0" stroke="#8a7060" stroke-width="0.4" transform="rotate(-35 930 974.5)"/>
  <ellipse cx="941.5" cy="976" rx="4" ry="2.4" fill="#fbf5f0" stroke="#8a7060" stroke-width="0.4" transform="rotate(-25 941.5 976)"/>
  <ellipse cx="944.5" cy="996.3" rx="3" ry="2.2" fill="#fbf5f0" stroke="#8a7060" stroke-width="0.4"/>
  <circle cx="939.5" cy="962" r="0.9" fill="#555"/>
 </g>
</g>
<!-- V feedback -->
<g transform="translate(988,917.9)"><use href="#fb"/></g>

</svg>
</body></html>
